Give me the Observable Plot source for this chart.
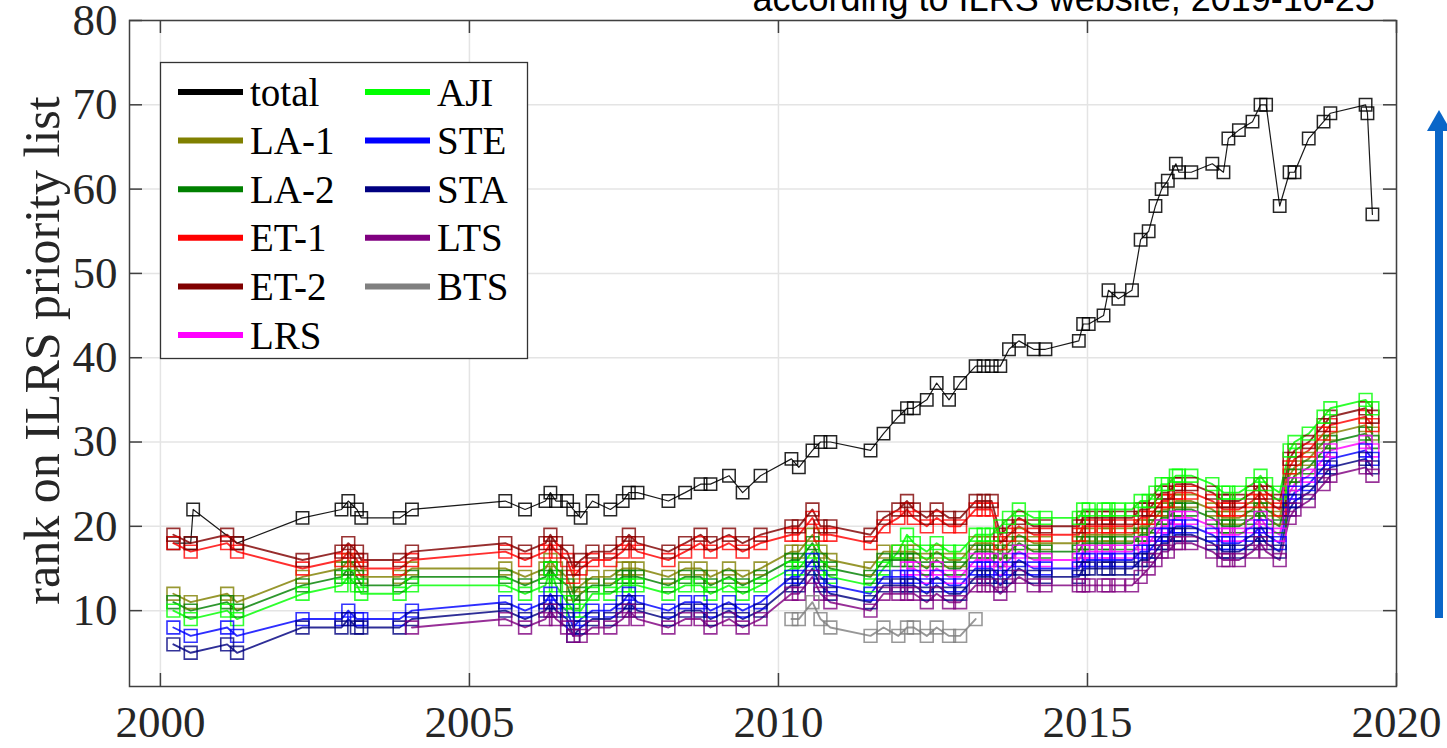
<!DOCTYPE html>
<html>
<head>
<meta charset="utf-8">
<script src="https://cdn.jsdelivr.net/npm/d3@7"></script>
<script src="https://cdn.jsdelivr.net/npm/@observablehq/plot@0.6"></script>
<style>
  html, body { margin: 0; padding: 0; background: #fff; overflow: hidden; }
  #chart { width: 1447px; height: 748px; }
</style>
</head>
<body>
<div id="chart"></div>
<script>
// Dates of the ILRS priority list updates (decimal years)
const dates = [2000.21, 2000.49, 2000.53, 2001.08, 2001.24, 2002.30, 2002.93, 2003.04, 2003.18, 2003.25,
  2003.87, 2004.07, 2005.58, 2005.90, 2006.23, 2006.31, 2006.40, 2006.58, 2006.68, 2006.80,
  2006.99, 2007.28, 2007.48, 2007.58, 2007.72, 2008.22, 2008.49, 2008.74, 2008.90, 2009.20,
  2009.42, 2009.71, 2010.21, 2010.33, 2010.55, 2010.68, 2010.84, 2011.49, 2011.70, 2011.94,
  2012.08, 2012.19, 2012.40, 2012.56, 2012.76, 2012.94, 2013.19, 2013.32, 2013.45, 2013.59,
  2013.73, 2013.89, 2014.13, 2014.32, 2014.86, 2014.93, 2015.02, 2015.26, 2015.34, 2015.50,
  2015.72, 2015.86, 2015.99, 2016.10, 2016.20, 2016.30, 2016.43, 2016.48, 2016.68, 2017.02,
  2017.20, 2017.28, 2017.45, 2017.67, 2017.80, 2017.89, 2018.11, 2018.27, 2018.35, 2018.58,
  2018.82, 2018.93, 2019.50, 2019.53, 2019.61];

// Number of satellites on the list (total) and the rank of each geodetic target
const total = [18, 18, 22, null, 18, 21, 22, 23, 22, 21,
  21, 22, 23, 22, 23, 24, 23, 23, 22, 21,
  23, 22, 23, 24, 24, 23, 24, 25, 25, 26,
  24, 26, 28, 27, 29, 30, 30, 29, 31, 33,
  34, 34, 35, 37, 35, 37, 39, 39, 39, 39,
  41, 42, 41, 41, 42, 44, 44, 45, 48, 47,
  48, 54, 55, 58, 60, 61, 63, 62, 62, 63,
  62, 66, 67, 68, 70, 70, 58, 62, 62, 66,
  68, 69, 70, 69, 57];

const la1 = [12, 11, null, 12, 11, 14, 15, 16, 15, 14,
  14, 15, 15, 14, 15, 16, 15, 14, 12, 13,
  14, 14, 15, 15, 15, 14, 15, 15, 14, 15,
  14, 15, 17, 17, 19, 17, 16, 15, 17, 17,
  17, 17, 16, 17, 16, 16, 18, 18, 18, 17,
  18, 19, 18, 18, 18, 19, 19, 19, 19, 19,
  19, 20, 20, 21, 22, 22, 23, 23, 23, 22,
  21, 21, 21, 22, 23, 22, 21, 26, 27, 28,
  30, 31, 32, null, 31];

const la2 = [11, 10, null, 11, 10, 13, 14, 15, 14, 13,
  13, 14, 14, 13, 14, 15, 14, 13, 11, 12,
  13, 13, 14, 14, 14, 13, 14, 14, 13, 14,
  13, 14, 16, 16, 18, 16, 15, 14, 16, 16,
  16, 16, 15, 16, 15, 15, 17, 17, 17, 16,
  17, 18, 17, 17, 17, 18, 18, 18, 18, 18,
  18, 19, 19, 20, 21, 21, 22, 22, 22, 21,
  20, 20, 20, 21, 22, 21, 20, 25, 26, 27,
  29, 30, 31, null, 30];

const et1 = [18, 17, null, 18, 17, 15, 16, 17, 16, 15,
  15, 16, 17, 16, 17, 18, 17, 16, 14, 15,
  16, 16, 17, 18, 17, 16, 17, 18, 17, 18,
  17, 18, 19, 19, 21, 19, 19, 18, 20, 21,
  22, 21, 20, 21, 20, 20, 22, 22, 22, 18,
  19, 20, 19, 19, 19, 20, 20, 20, 20, 20,
  20, 21, 21, 22, 23, 23, 24, 24, 24, 23,
  22, 22, 22, 23, 24, 23, 22, 27, 28, 29,
  31, 32, 33, null, 32];

const et2 = [19, 18, null, 19, 18, 16, 17, 18, 17, 16,
  16, 17, 18, 17, 18, 19, 18, 17, 15, 16,
  17, 17, 18, 19, 18, 17, 18, 19, 18, 19,
  18, 19, 20, 20, 22, 20, 20, 19, 21, 22,
  23, 22, 21, 22, 21, 21, 23, 23, 23, 19,
  20, 21, 20, 20, 20, 21, 21, 21, 21, 21,
  21, 22, 22, 23, 24, 24, 25, 25, 25, 24,
  23, 23, 23, 24, 25, 24, 23, 28, 29, 30,
  32, 33, 34, null, 33];

const lrs = [null, null, null, null, null, null, null, null, null, null,
  null, null, null, null, null, null, null, null, null, null,
  null, null, null, null, null, null, null, null, null, null,
  null, null, null, null, null, null, null, null, null, null,
  15, 15, 14, 15, 14, 14, 16, 16, 16, 15,
  16, 17, 16, 16, 16, 17, 17, 17, 17, 17,
  17, 18, 18, 19, 20, 20, 21, 21, 21, 20,
  19, 19, 19, 20, 21, 20, 19, 24, 25, 26,
  28, 29, 30, null, 29];

const aji = [10, 9, null, 10, 9, 12, 13, 14, 13, 12,
  12, 13, 13, 12, 13, 15, 13, 11, 10, 10,
  12, 12, 13, 13, 13, 12, 13, 13, 12, 13,
  12, 13, 15, 15, 17, 15, 14, 13, 15, 17,
  19, 18, 17, 18, 17, 17, 19, 19, 19, 20,
  21, 22, 21, 21, 21, 22, 22, 22, 22, 22,
  22, 23, 23, 24, 25, 25, 26, 26, 26, 25,
  24, 24, 24, 25, 26, 25, 24, 29, 30, 31,
  33, 34, 35, null, 34];

const ste = [8, 7, null, 8, 7, 9, 9, 10, 9, 9,
  9, 10, 11, 10, 11, 12, 11, 10, 8, 9,
  10, 10, 11, 12, 11, 10, 11, 11, 10, 11,
  10, 11, 14, 14, 16, 14, 13, 12, 14, 14,
  14, 14, 13, 14, 13, 13, 15, 15, 15, 14,
  15, 16, 15, 15, 15, 16, 16, 16, 16, 16,
  16, 17, 17, 18, 19, 19, 20, 20, 20, 19,
  18, 18, 18, 19, 20, 19, 18, 23, 24, 25,
  27, 28, 29, null, 28];

const sta = [6, 5, null, 6, 5, 8, 8, 9, 8, 8,
  8, 9, 10, 9, 10, 11, 10, 9, 7, 8,
  9, 9, 10, 11, 10, 9, 10, 10, 9, 10,
  9, 10, 13, 13, 15, 13, 12, 11, 13, 13,
  13, 13, 12, 13, 12, 12, 14, 14, 14, 13,
  14, 15, 14, 14, 14, 15, 15, 15, 15, 15,
  15, 16, 16, 17, 18, 18, 19, 19, 19, 18,
  17, 17, 17, 18, 19, 18, 17, 22, 23, 24,
  26, 27, 28, null, 27];

const lts = [null, null, null, null, null, null, null, null, null, null,
  null, 8, 9, 8, 9, 10, 9, 8, 7, 7,
  8, 8, 9, 10, 9, 8, 9, 9, 8, 9,
  8, 9, 12, 12, 14, 12, 11, 10, 12, 12,
  12, 12, 11, 12, 11, 11, 13, 13, 13, 12,
  13, 14, 13, 13, 13, 13, 13, 13, 13, 13,
  13, 14, 15, 16, 17, 17, 18, 18, 18, 17,
  16, 16, 16, 17, 18, 17, 16, 21, 22, 23,
  25, 26, 27, null, 26];

const bts = [null, null, null, null, null, null, null, null, null, null,
  null, null, null, null, null, null, null, null, null, null,
  null, null, null, null, null, null, null, null, null, null,
  null, null, 9, 9, 11, 9, 8, 7, 8, 7,
  8, 8, 7, 8, 7, 7, 9, null, null, null,
  null, null, null, null, null, null, null, null, null, null,
  null, null, null, null, null, null, null, null, null, null,
  null, null, null, null, null, null, null, null, null, null,
  null, null, null, null, null];

// Series names (legend order) and colours
const seriesNames = ["total", "LA-1", "LA-2", "ET-1", "ET-2", "LRS", "AJI", "STE", "STA", "LTS", "BTS"];
const seriesColors = ["#000000", "#808000", "#008000", "#ff0000", "#800000", "#ff00ff", "#00ff00", "#0000ff", "#000080", "#800080", "#808080"];
const seriesValues = [total, la1, la2, et1, et2, lrs, aji, ste, sta, lts, bts];

const xTicks = [2000, 2005, 2010, 2015, 2020];
const yTicks = [10, 20, 30, 40, 50, 60, 70, 80];
const yLabel = "rank on ILRS priority list";
const note = "according to ILRS website, 2019-10-25";

// Tidy rows, skipping dates on which a target was not listed
const rows = [];
seriesNames.forEach((name, k) => {
  seriesValues[k].forEach((v, i) => {
    if (v != null) rows.push({name, date: dates[i], rank: v});
  });
});
const satRows = rows.filter(d => d.name !== "total");
const totalRows = rows.filter(d => d.name === "total");

const W = 1447, H = 748;
const mL = 129, mR = 51, mT = 20, mB = 62;
const innerW = W - mL - mR, innerH = H - mT - mB;
const serif = "'Liberation Serif', 'Times New Roman', serif";
const axisColor = "#404040";
const tickLen = 13;

const chart = Plot.plot({
  width: W,
  height: H,
  marginLeft: mL,
  marginRight: mR,
  marginTop: mT,
  marginBottom: mB,
  style: {fontFamily: serif, fontSize: "45px", background: "white", color: "#262626"},
  x: {domain: [1999.5, 2020]},
  y: {domain: [1, 80]},
  color: {domain: seriesNames, range: seriesColors},
  marks: [
    Plot.gridX(xTicks, {stroke: "#e4e4e4", strokeOpacity: 1, strokeWidth: 1.5}),
    Plot.gridY(yTicks, {stroke: "#e4e4e4", strokeOpacity: 1, strokeWidth: 1.5}),
    // inward ticks on all four sides
    Plot.tickY(yTicks, {y: d => d, insetRight: innerW - tickLen, stroke: axisColor, strokeWidth: 1.5}),
    Plot.tickY(yTicks, {y: d => d, insetLeft: innerW - tickLen, stroke: axisColor, strokeWidth: 1.5}),
    Plot.tickX(xTicks, {x: d => d, insetTop: innerH - tickLen, stroke: axisColor, strokeWidth: 1.5}),
    Plot.tickX(xTicks, {x: d => d, insetBottom: innerH - tickLen, stroke: axisColor, strokeWidth: 1.5}),
    Plot.axisX(xTicks, {tickSize: 0, tickPadding: 19, tickFormat: d => String(d), label: null, fontSize: 45}),
    Plot.axisY(yTicks, {tickSize: 0, tickPadding: 12, tickFormat: d => String(d), label: null, fontSize: 45}),
    // total number of satellites
    Plot.line(totalRows, {x: "date", y: "rank", stroke: "#000", strokeWidth: 1.2, strokeOpacity: 0.9}),
    Plot.dot(totalRows, {x: "date", y: "rank", stroke: "#000", symbol: "square", r: 7, strokeWidth: 1.5, strokeOpacity: 0.85, fill: "none"}),
    // geodetic targets
    Plot.line(satRows, {x: "date", y: "rank", z: "name", stroke: "name", strokeWidth: 1.9, strokeOpacity: 0.82}),
    Plot.dot(satRows, {x: "date", y: "rank", stroke: "name", symbol: "square", r: 7.2, strokeWidth: 1.6, strokeOpacity: 0.8, fill: "none"}),
    Plot.frame({stroke: axisColor, strokeWidth: 1.5}),
    Plot.text([yLabel], {frameAnchor: "left", dx: -87, dy: -3, rotate: -90, textAnchor: "middle", lineAnchor: "middle", fontSize: 50, fill: "#262626"}),
    Plot.text([note], {frameAnchor: "top-left", dx: 752 - mL, dy: 10 - mT, textAnchor: "start", lineAnchor: "bottom", fontSize: 36, fontFamily: "'Liberation Sans', Arial, sans-serif", fill: "#000"})
  ]
});

// Legend box in the upper-left corner of the frame
const svg = d3.select(chart);
const lg = svg.append("g").attr("class", "legend");
lg.append("rect")
  .attr("x", 160.5).attr("y", 62.5).attr("width", 367).attr("height", 296)
  .attr("fill", "white").attr("stroke", "#333").attr("stroke-width", 1.3);
const rowY = i => 92 + i * 48.6;
const cols = [
  {names: seriesNames.slice(0, 6), x0: 178, x1: 243, tx: 250},
  {names: seriesNames.slice(6), x0: 365, x1: 430, tx: 437}
];
cols.forEach(col => {
  col.names.forEach((name, i) => {
    const color = seriesColors[seriesNames.indexOf(name)];
    lg.append("line")
      .attr("x1", col.x0).attr("x2", col.x1)
      .attr("y1", rowY(i)).attr("y2", rowY(i))
      .attr("stroke", color).attr("stroke-width", 6);
    lg.append("text")
      .attr("x", col.tx).attr("y", rowY(i)).attr("dy", "0.35em")
      .attr("text-anchor", "start")
      .attr("font-family", serif).attr("font-size", 39).attr("fill", "#000")
      .text(name);
  });
});

// Upward arrow in the right margin
const arrowColor = "#0a66c8";
const ag = svg.append("g").attr("class", "arrow");
ag.append("rect").attr("x", 1435).attr("y", 128).attr("width", 8).attr("height", 490).attr("fill", arrowColor);
ag.append("path").attr("d", "M1427,131 L1451,131 L1439,110 Z").attr("fill", arrowColor);

document.getElementById("chart").append(chart);
</script>
</body>
</html>
